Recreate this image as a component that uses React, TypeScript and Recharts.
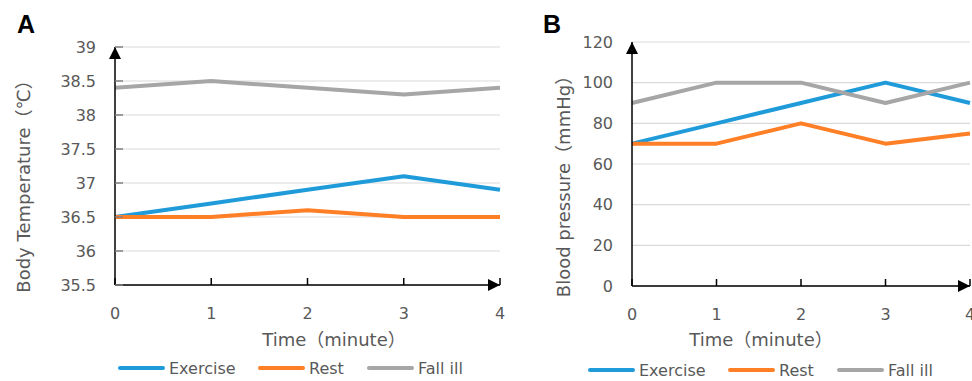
import React from "react";
import { LineChart, Line, XAxis, YAxis, CartesianGrid } from "recharts";

const TIME = [0, 1, 2, 3, 4];

const TEMP_EXERCISE = [36.5, 36.7, 36.9, 37.1, 36.9];
const TEMP_REST = [36.5, 36.5, 36.6, 36.5, 36.5];
const TEMP_ILL = [38.4, 38.5, 38.4, 38.3, 38.4];

const BP_EXERCISE = [70, 80, 90, 100, 90];
const BP_REST = [70, 70, 80, 70, 75];
const BP_ILL = [90, 100, 100, 90, 100];

const TEMP_TICKS = [35.5, 36, 36.5, 37, 37.5, 38, 38.5, 39];
const BP_TICKS = [0, 20, 40, 60, 80, 100, 120];

const SERIES = [
  { key: "exercise", name: "Exercise", color: "#1f9bd9" },
  { key: "rest", name: "Rest", color: "#ff7f27" },
  { key: "ill", name: "Fall ill", color: "#a6a6a6" },
];

const FONT = "'DejaVu Sans', 'Noto Sans CJK SC', sans-serif";
const TEXT = "#595959";
const GRID = "#d9d9d9";

const tempData = TIME.map((t, i) => ({
  t,
  exercise: TEMP_EXERCISE[i],
  rest: TEMP_REST[i],
  ill: TEMP_ILL[i],
}));

const bpData = TIME.map((t, i) => ({
  t,
  exercise: BP_EXERCISE[i],
  rest: BP_REST[i],
  ill: BP_ILL[i],
}));

const X_MARGIN = 28;
const Y_MARGIN = 19;

function XTick(props: any) {
  const { x, y, payload } = props;
  const axisY = y - X_MARGIN;
  return (
    <g>
      <line x1={x} x2={x} y1={axisY} y2={axisY - 7} stroke="#000" strokeWidth={1.5} />
      <text x={x} y={y} textAnchor="middle" dominantBaseline="central" fill={TEXT} fontSize={16} fontFamily={FONT}>
        {payload.value}
      </text>
    </g>
  );
}

function YTick(props: any) {
  const { x, y, payload, inner } = props;
  const axisX = x + Y_MARGIN;
  return (
    <g>
      {inner && <line x1={axisX} x2={axisX + 8} y1={y} y2={y} stroke="#808080" strokeWidth={1.5} />}
      <text x={x} y={y} textAnchor="end" dominantBaseline="central" fill={TEXT} fontSize={16} fontFamily={FONT}>
        {payload.value}
      </text>
    </g>
  );
}

const axisLineStyle = {
  stroke: "#000",
  strokeWidth: 1.5,
};

function Panel({
  data,
  ticks,
  width,
  left,
  plotLeft,
  plotRight,
  plotTop,
  plotBottom,
  innerTicks,
}: {
  data: any[];
  ticks: number[];
  width: number;
  left: number;
  plotLeft: number;
  plotRight: number;
  plotTop: number;
  plotBottom: number;
  innerTicks: boolean;
}) {
  const yAxisWidth = 50;
  const xAxisHeight = 40;
  return (
    <div style={{ position: "absolute", left, top: 0 }}>
      <LineChart
        width={width}
        height={381}
        data={data}
        margin={{
          top: plotTop,
          right: width - plotRight,
          bottom: 381 - plotBottom - xAxisHeight,
          left: plotLeft - yAxisWidth,
        }}
      >
        <CartesianGrid vertical={false} stroke={GRID} strokeWidth={1.2} />
        <XAxis
          dataKey="t"
          type="number"
          domain={[0, 4]}
          ticks={TIME}
          height={xAxisHeight}
          tickSize={0}
          tickMargin={X_MARGIN}
          tickLine={false}
          axisLine={{ ...axisLineStyle, markerEnd: "url(#arrowHead)" } as any}
          tick={(p: any) => <XTick {...p} />}
          interval={0}
        />
        <YAxis
          type="number"
          domain={[ticks[0], ticks[ticks.length - 1]]}
          ticks={ticks}
          width={yAxisWidth}
          tickSize={0}
          tickMargin={Y_MARGIN}
          tickLine={false}
          axisLine={{ ...axisLineStyle, markerStart: "url(#arrowHeadRev)" } as any}
          tick={(p: any) => <YTick {...p} inner={innerTicks} />}
          interval={0}
        />
        {SERIES.map((s) => (
          <Line
            key={s.key}
            type="linear"
            dataKey={s.key}
            name={s.name}
            stroke={s.color}
            strokeWidth={4}
            strokeLinejoin="round"
            dot={false}
            activeDot={false}
            isAnimationActive={false}
          />
        ))}
      </LineChart>
    </div>
  );
}

const LEGEND_OFFSETS = [0, 140, 249];

function LegendRow({ x, y }: { x: number; y: number }) {
  return (
    <g>
      {SERIES.map((s, i) => {
        const lx = x + LEGEND_OFFSETS[i];
        return (
          <g key={s.key}>
            <line x1={lx + 2} x2={lx + 45} y1={y} y2={y} stroke={s.color} strokeWidth={4} strokeLinecap="round" />
            <text x={lx + 51} y={y} dominantBaseline="central" fill={TEXT} fontSize={16} fontFamily={FONT}>
              {s.name}
            </text>
          </g>
        );
      })}
    </g>
  );
}

export default function App() {
  return (
    <div style={{ position: "absolute", left: 0, top: 0, width: 972, height: 381, background: "#fff", overflow: "hidden" }}>
      <svg width={0} height={0} style={{ position: "absolute" }}>
        <defs>
          <marker id="arrowHead" viewBox="0 0 10 10" refX={10} refY={5} markerWidth={13} markerHeight={12} markerUnits="userSpaceOnUse" orient="auto">
            <path d="M0,0 L10,5 L0,10 z" fill="#000" />
          </marker>
          <marker id="arrowHeadRev" viewBox="0 0 10 10" refX={10} refY={5} markerWidth={13} markerHeight={12} markerUnits="userSpaceOnUse" orient="auto-start-reverse">
            <path d="M0,0 L10,5 L0,10 z" fill="#000" />
          </marker>
        </defs>
      </svg>
      <Panel data={tempData} ticks={TEMP_TICKS} width={520} left={0} plotLeft={115} plotRight={500} plotTop={47} plotBottom={285} innerTicks />
      <Panel data={bpData} ticks={BP_TICKS} width={452} left={520} plotLeft={112} plotRight={450} plotTop={42} plotBottom={286} innerTicks={false} />
      <svg width={972} height={381} style={{ position: "absolute", left: 0, top: 0, pointerEvents: "none" }}>
        <text x={17} y={33} fontSize={25} fontWeight="bold" fontFamily="'Liberation Sans', Arial, sans-serif" fill="#000">A</text>
        <text x={543} y={33} fontSize={25} fontWeight="bold" fontFamily="'Liberation Sans', Arial, sans-serif" fill="#000">B</text>
        <text x={23} y={182} transform="rotate(-90 23 182)" textAnchor="middle" dominantBaseline="central" fontSize={18} fill={TEXT} fontFamily={FONT}>
          Body Temperature（℃）
        </text>
        <text x={563} y={182} transform="rotate(-90 563 182)" textAnchor="middle" dominantBaseline="central" fontSize={18} fill={TEXT} fontFamily={FONT}>
          Blood pressure（mmHg）
        </text>
        <text x={334} y={339} textAnchor="middle" dominantBaseline="central" fontSize={18} fill={TEXT} fontFamily={FONT}>
          Time（minute）
        </text>
        <text x={761} y={339} textAnchor="middle" dominantBaseline="central" fontSize={18} fill={TEXT} fontFamily={FONT}>
          Time（minute）
        </text>
        <LegendRow x={118} y={368} />
        <LegendRow x={588} y={370} />
      </svg>
    </div>
  );
}
